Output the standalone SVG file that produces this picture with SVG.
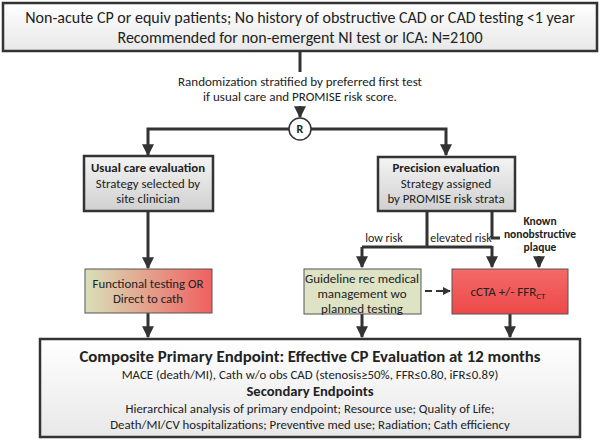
<svg xmlns="http://www.w3.org/2000/svg" width="600" height="443" viewBox="0 0 600 443">
<defs>
<linearGradient id="gray" x1="0" y1="0" x2="0" y2="1"><stop offset="0" stop-color="#f4f4f4"/><stop offset="1" stop-color="#d0d0d0"/></linearGradient>
<linearGradient id="white" x1="0" y1="0" x2="0" y2="1"><stop offset="0" stop-color="#ffffff"/><stop offset="1" stop-color="#e8e8e8"/></linearGradient>
<linearGradient id="gr" x1="0" y1="0" x2="1" y2="0"><stop offset="0" stop-color="#d8e0b8"/><stop offset="1" stop-color="#f06060"/></linearGradient>
<linearGradient id="red" x1="0" y1="0" x2="0" y2="1"><stop offset="0" stop-color="#f46a6a"/><stop offset="1" stop-color="#ee4848"/></linearGradient>
<marker id="ah" viewBox="0 0 10 10" refX="9" refY="5" markerWidth="4" markerHeight="4" orient="auto"><path d="M0,0L10,5L0,10z" fill="#333"/></marker>
</defs>
<style>
text{font-family:Calibri,Carlito,"Liberation Sans",sans-serif;fill:#222;text-anchor:middle}
.c{fill:none;stroke:#333;stroke-width:3}
.b{stroke:#333;stroke-width:2.5}
.bold{font-weight:bold}
</style>
<g id="connectors">
<path class="c" d="M300,51V72"/>
<path class="c" d="M300,106V117" marker-end="url(#ah)"/>
<path class="c" d="M289,129H148V155" marker-end="url(#ah)"/>
<path class="c" d="M311,129H446V155" marker-end="url(#ah)"/>
<path class="c" d="M148,211V268" marker-end="url(#ah)"/>
<path class="c" d="M427,211V247M362,247H492"/>
<path class="c" d="M492,246V267" marker-end="url(#ah)"/>
<path class="c" d="M362,247V267" marker-end="url(#ah)"/>
<path class="c" d="M492,211V238H500"/>
<path class="c" d="M539,256V267" marker-end="url(#ah)"/>
<path d="M425,291H437" stroke="#333" stroke-width="2" stroke-dasharray="7,4" fill="none"/>
<path d="M437,291H450" stroke="#333" stroke-width="2" fill="none" marker-end="url(#ah)"/>
<path class="c" d="M148,313V337" marker-end="url(#ah)"/>
<path class="c" d="M362,314V337" marker-end="url(#ah)"/>
<path class="c" d="M510,314V337" marker-end="url(#ah)"/>
</g>
<g id="top"><rect x="3" y="3" width="594" height="48" fill="url(#white)" class="b"/>
<text x="300" y="23" font-size="16">Non-acute CP or equiv patients; No history of obstructive CAD or CAD testing &lt;1 year</text>
<text x="300" y="43" font-size="16">Recommended for non-emergent NI test or ICA: N=2100</text></g>
<g id="rand"><text x="300" y="86" font-size="13">Randomization stratified by preferred first test</text>
<text x="300" y="101" font-size="13">if usual care and PROMISE risk score.</text></g>
<g id="R"><circle cx="300" cy="129" r="11" fill="#fff" stroke="#333" stroke-width="1.5"/><text x="300" y="133" font-size="12" class="bold">R</text></g>
<g id="usual"><rect x="84" y="156" width="129" height="55" fill="url(#gray)" class="b"/>
<text x="148" y="172" font-size="12.8" class="bold">Usual care evaluation</text>
<text x="148" y="188" font-size="12.8">Strategy selected by</text>
<text x="148" y="203" font-size="12.8">site clinician</text></g>
<g id="precision"><rect x="378" y="157" width="137" height="54" fill="url(#gray)" class="b"/>
<text x="446" y="172" font-size="12.8" class="bold">Precision evaluation</text>
<text x="446" y="188" font-size="12.8">Strategy assigned</text>
<text x="446" y="203" font-size="12.8">by PROMISE risk strata</text></g>
<g id="labels"><text x="384" y="242" font-size="12">low risk</text>
<text x="461" y="242" font-size="12">elevated risk</text>
<text x="540" y="225" font-size="11.5" class="bold">Known</text>
<text x="540" y="238" font-size="11.5" class="bold">nonobstructive</text>
<text x="540" y="251" font-size="11.5" class="bold">plaque</text></g>
<g id="functional"><rect x="85" y="269" width="127" height="44" fill="url(#gr)" stroke="#555" stroke-width="1"/>
<text x="148" y="288" font-size="12.8">Functional testing OR</text>
<text x="148" y="303" font-size="12.8">Direct to cath</text></g>
<g id="guideline"><rect x="304" y="269" width="117" height="45" fill="#dde3c4" stroke="#555" stroke-width="1"/>
<text x="362" y="283" font-size="13">Guideline rec medical</text>
<text x="362" y="298" font-size="13">management wo</text>
<text x="362" y="313" font-size="13">planned testing</text></g>
<g id="cta"><rect x="452" y="269" width="116" height="45" fill="url(#red)" stroke="#555" stroke-width="1"/>
<text x="508" y="296" font-size="13">cCTA +/- FFR<tspan font-size="9" dy="3">CT</tspan></text></g>
<g id="bottom"><rect x="40" y="339" width="540" height="98" fill="url(#white)" class="b"/>
<text x="310" y="362" font-size="16.8" class="bold">Composite Primary Endpoint:  Effective CP Evaluation at 12 months</text>
<text x="310" y="379" font-size="12.8">MACE (death/MI), Cath w/o obs CAD (stenosis≥50%, FFR≤0.80, iFR≤0.89)</text>
<text x="310" y="396" font-size="14.6" class="bold">Secondary Endpoints</text>
<text x="310" y="413" font-size="12.8">Hierarchical analysis of primary endpoint; Resource use; Quality of Life;</text>
<text x="310" y="429" font-size="12.8">Death/MI/CV hospitalizations; Preventive med use; Radiation; Cath efficiency</text></g>
</svg>
